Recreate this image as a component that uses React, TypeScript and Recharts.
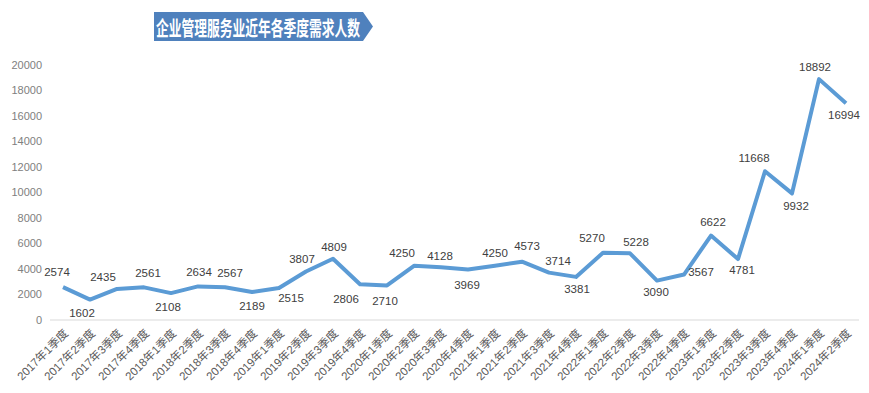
import { LineChart, Line, XAxis, YAxis, LabelList } from "recharts";

const quarters = [
  "2017年1季度", "2017年2季度", "2017年3季度", "2017年4季度",
  "2018年1季度", "2018年2季度", "2018年3季度", "2018年4季度",
  "2019年1季度", "2019年2季度", "2019年3季度", "2019年4季度",
  "2020年1季度", "2020年2季度", "2020年3季度", "2020年4季度",
  "2021年1季度", "2021年2季度", "2021年3季度", "2021年4季度",
  "2022年1季度", "2022年2季度", "2022年3季度", "2022年4季度",
  "2023年1季度", "2023年2季度", "2023年3季度", "2023年4季度",
  "2024年1季度", "2024年2季度"
];

const demand = [
  2574, 1602, 2435, 2561, 2108, 2634, 2567, 2189, 2515, 3807,
  4809, 2806, 2710, 4250, 4128, 3969, 4250, 4573, 3714, 3381,
  5270, 5228, 3090, 3567, 6622, 4781, 11668, 9932, 18892, 16994
];

const yTicks = [0, 2000, 4000, 6000, 8000, 10000, 12000, 14000, 16000, 18000, 20000];

const title = "企业管理服务业近年各季度需求人数";

// label nudges (dx, dy), one per point
const labelOffsets: [number, number][] = [
  [-6, -15], [-8, 13], [-14, -12], [4, -14], [-3, 14], [1, -14], [5, -14], [0, 14], [12, 10], [-4, -12],
  [1, -12], [-14, 15], [-2, 16], [-12, -13], [-1, -11], [-1, 16], [0, -13], [5, -16], [9, -12], [1, 12],
  [-11, -15], [6, -11], [-1, 11], [17, -3], [2, -14], [4, 11], [-11, -13], [4, 13], [-4, -12], [-2, 12]
];

const data = quarters.map((q, i) => ({ name: q, value: demand[i] }));

const font = "'Liberation Sans', 'Noto Sans CJK SC', sans-serif";

const QuarterTick = (props: any) => {
  const { x, y, payload } = props;
  const ax = x + 6;
  const ay = y + 6;
  return (
    <text
      x={ax}
      y={ay}
      transform={`rotate(-45 ${ax} ${ay})`}
      textAnchor="end"
      fontSize={11.5}
      fill="#595959"
      fontFamily={font}
    >
      {payload.value}
    </text>
  );
};

const ValueLabel = (props: any) => {
  const { x, y, value, index } = props;
  const [dx, dy] = labelOffsets[index] || [0, -14];
  return (
    <text
      x={x + dx}
      y={y + dy}
      textAnchor="middle"
      dominantBaseline="central"
      fontSize={11.5}
      fill="#404040"
      fontFamily={font}
    >
      {value}
    </text>
  );
};

export default function App() {
  return (
    <div style={{ position: "absolute", left: 0, top: 0, width: 869, height: 393, background: "#fff" }}>
      <LineChart width={869} height={393} data={data} margin={{ top: 65, right: 10, left: 0, bottom: 0 }}>
        <XAxis
          dataKey="name"
          interval={0}
          height={73}
          padding={{ left: 13, right: 13 }}
          axisLine={{ stroke: "#d9d9d9" }}
          tickLine={false}
          tick={<QuarterTick />}
        />
        <YAxis
          domain={[0, 20000]}
          ticks={yTicks}
          width={50}
          axisLine={false}
          tickLine={false}
          tickMargin={2}
          tick={{ fontSize: 11, fill: "#808080", fontFamily: font }}
        />
        <Line
          type="linear"
          dataKey="value"
          stroke="#5b9bd5"
          strokeWidth={4}
          strokeLinejoin="round"
          dot={false}
          activeDot={false}
          isAnimationActive={false}
        >
          <LabelList dataKey="value" content={<ValueLabel />} />
        </Line>
      </LineChart>
      <svg width={869} height={60} style={{ position: "absolute", left: 0, top: 0 }}>
        <polygon points="154,12 363,12 373,26.5 363,41 154,41" fill="#4f81bd" />
        <text
          x={258}
          y={27}
          textAnchor="middle"
          dominantBaseline="central"
          fontSize={20}
          fontWeight="bold"
          fill="#fff"
          fontFamily="'Noto Sans CJK SC', sans-serif"
          textLength={204}
          lengthAdjust="spacingAndGlyphs"
        >
          {title}
        </text>
      </svg>
    </div>
  );
}
